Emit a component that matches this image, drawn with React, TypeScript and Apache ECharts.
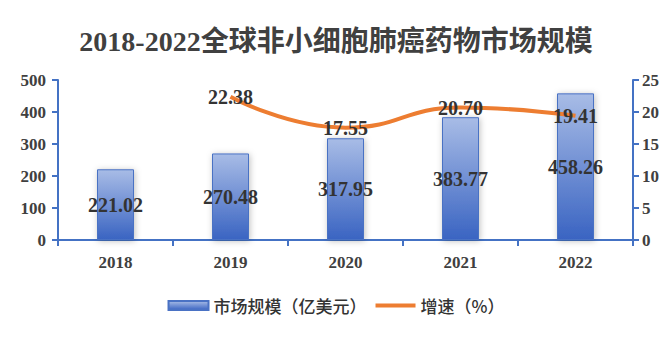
import React, { useEffect, useRef } from "react";
import * as echarts from "echarts";

const categories = ["2018", "2019", "2020", "2021", "2022"];
const marketSize = [221.02, 270.48, 317.95, 383.77, 458.26];
const growthYears = ["2019", "2020", "2021", "2022"];
const growthRate = [22.38, 17.55, 20.7, 19.41];

const SERIF = "'Times New Roman', 'Liberation Serif', 'Noto Sans CJK SC', serif";
const SANS = "'Noto Sans CJK SC', 'Microsoft YaHei', sans-serif";
const AXIS_BLUE = "#4472C4";

export default function App() {
  const ref = useRef<HTMLDivElement>(null);
  useEffect(() => {
    if (!ref.current) return;
    const chart = echarts.init(ref.current, undefined, { renderer: "svg" });
    const barGradient = new echarts.graphic.LinearGradient(0, 0, 0, 1, [
      { offset: 0, color: "#A8BCE6" },
      { offset: 1, color: "#3A64C2" },
    ]);
    const lineData = categories.map((c) => {
      const i = growthYears.indexOf(c);
      return i >= 0 ? growthRate[i] : null;
    });
    const labelStyle = {
      fontFamily: SERIF,
      fontWeight: "bold",
      fontSize: 20,
      color: "#333333",
    };
    chart.setOption({
      animation: false,
      backgroundColor: "#ffffff",
      title: {
        text: "2018-2022全球非小细胞肺癌药物市场规模",
        left: "center",
        top: 22,
        textStyle: {
          fontFamily: SERIF,
          fontWeight: "bold",
          fontSize: 28,
          color: "#404040",
        },
      },
      legend: {
        bottom: 32,
        left: "center",
        itemWidth: 40,
        itemHeight: 9,
        itemGap: 9,
        textStyle: { fontFamily: SANS, fontSize: 17, fontWeight: 500, color: "#333333" },
        data: [
          { name: "市场规模（亿美元）", icon: "rect" },
          { name: "增速（%）", icon: "path://M0,0L40,0L40,4L0,4Z" },
        ],
      },
      grid: { left: 58, right: 39, top: 80, bottom: 111, containLabel: false },
      xAxis: {
        type: "category",
        data: categories,
        boundaryGap: true,
        axisLine: { lineStyle: { color: AXIS_BLUE, width: 2 } },
        axisTick: { show: true, length: 6, lineStyle: { color: AXIS_BLUE, width: 2 } },
        axisLabel: {
          margin: 14,
          fontFamily: SERIF,
          fontWeight: "bold",
          fontSize: 17,
          color: "#404040",
        },
      },
      yAxis: [
        {
          type: "value",
          min: 0,
          max: 500,
          interval: 100,
          splitLine: { show: false },
          axisLine: { show: true, lineStyle: { color: AXIS_BLUE, width: 2 } },
          axisTick: { show: true, length: 6, lineStyle: { color: AXIS_BLUE, width: 2 } },
          axisLabel: {
            margin: 12,
            fontFamily: SERIF,
            fontWeight: "bold",
            fontSize: 17,
            color: "#404040",
          },
        },
        {
          type: "value",
          min: 0,
          max: 25,
          interval: 5,
          splitLine: { show: false },
          axisLine: { show: true, lineStyle: { color: AXIS_BLUE, width: 2 } },
          axisTick: { show: true, length: 6, lineStyle: { color: AXIS_BLUE, width: 2 } },
          axisLabel: {
            margin: 9,
            fontFamily: SERIF,
            fontWeight: "bold",
            fontSize: 17,
            color: "#404040",
          },
        },
      ],
      series: [
        {
          name: "市场规模（亿美元）",
          type: "bar",
          data: marketSize,
          barWidth: 37,
          yAxisIndex: 0,
          itemStyle: {
            color: barGradient,
            borderColor: "#4A72C4",
            borderWidth: 1,
            shadowBlur: 6,
            shadowColor: "rgba(0,0,0,0.25)",
            shadowOffsetX: 1,
            shadowOffsetY: 1,
          },
          label: {
            show: true,
            position: "inside",
            ...labelStyle,
            formatter: (p: any) => Number(p.value).toFixed(2),
          },
        },
        {
          name: "增速（%）",
          type: "line",
          data: lineData,
          yAxisIndex: 1,
          smooth: true,
          symbol: "none",
          z: 5,
          lineStyle: { color: "#ED7D31", width: 4 },
          itemStyle: { color: "#ED7D31" },
        },
        {
          name: "增速标签",
          type: "scatter",
          data: lineData,
          yAxisIndex: 1,
          symbolSize: 0,
          z: 6,
          silent: true,
          itemStyle: { color: "#ED7D31", opacity: 1 },
          label: {
            show: true,
            position: "inside",
            ...labelStyle,
            formatter: (p: any) => Number(p.value).toFixed(2),
          },
        },
      ],
    });
    return () => chart.dispose();
  }, []);
  return <div ref={ref} style={{ width: 672, height: 351, position: "absolute", left: 0, top: 0 }} />;
}
